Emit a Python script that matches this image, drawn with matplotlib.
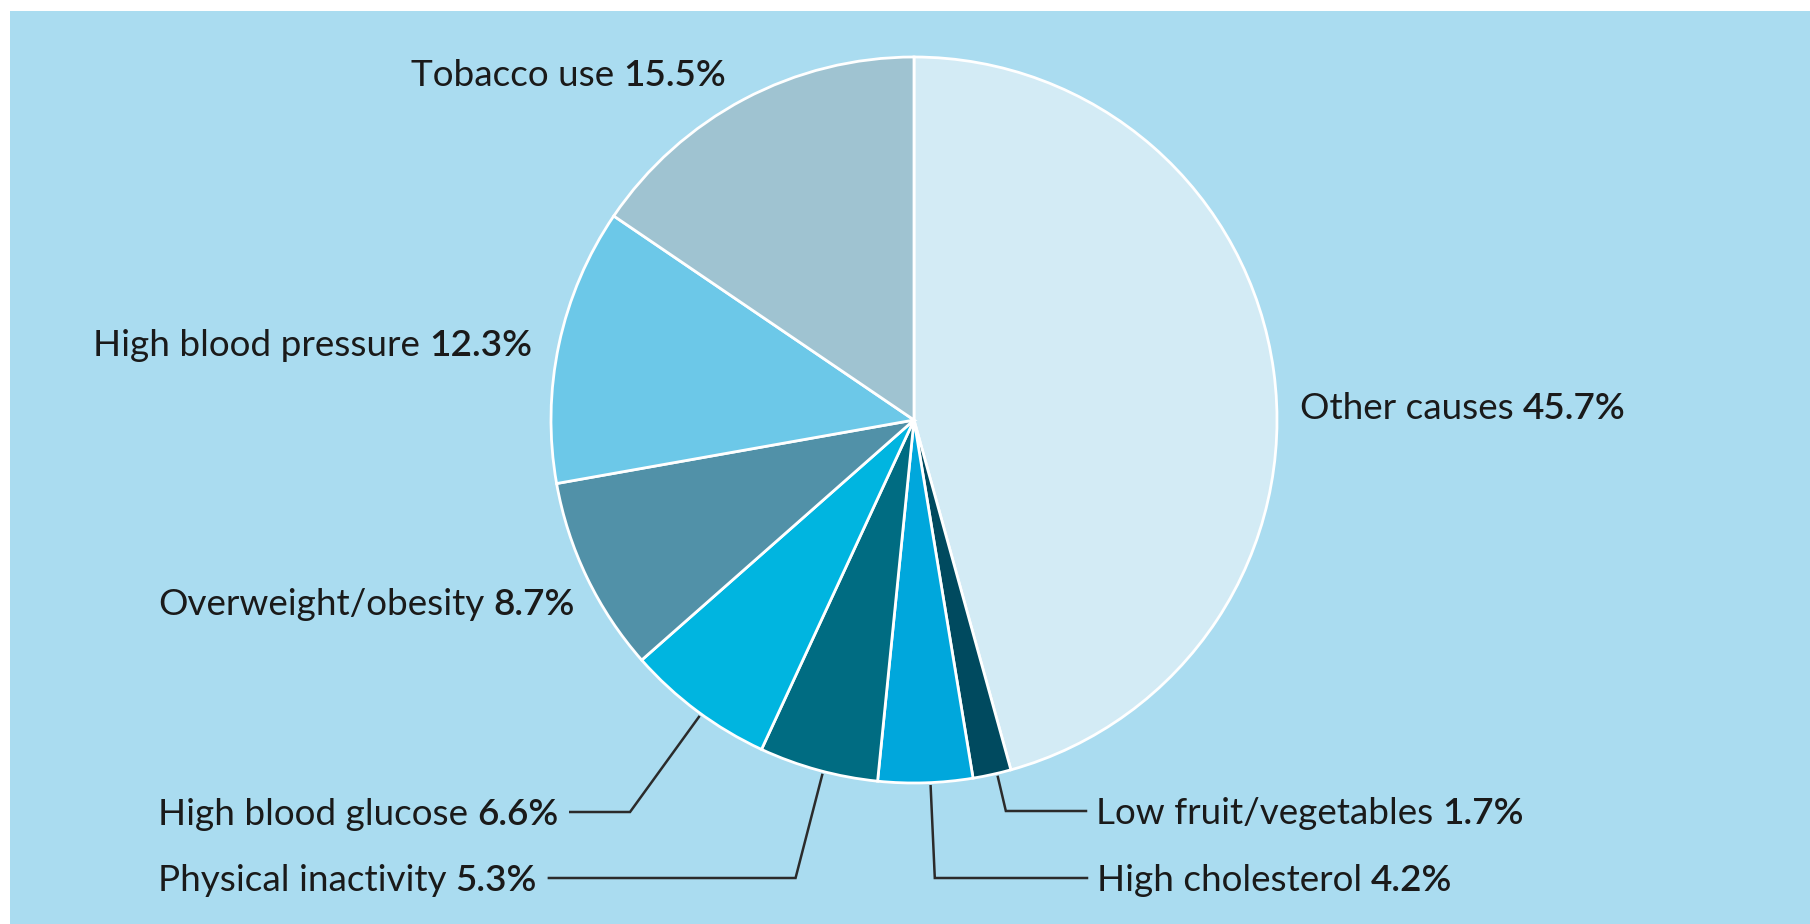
import numpy as np
import matplotlib.pyplot as plt
from matplotlib.patches import Rectangle

causes = ['Other causes', 'Low fruit/vegetables', 'High cholesterol',
          'Physical inactivity', 'High blood glucose', 'Overweight/obesity',
          'High blood pressure', 'Tobacco use']
shares = [45.7, 1.7, 4.2, 5.3, 6.6, 8.7, 12.3, 15.5]
colors = ['#d3ebf5', '#004a5f', '#00a7dc', '#006c82',
          '#00b5e0', '#5191a8', '#6cc8e8', '#9fc3d1']

# label anchor (x px, cap-centre y px from top, alignment)
label_pos = {
    'Other causes': (1300, 406, 'left'),
    'Low fruit/vegetables': (1096, 811, 'left'),
    'High cholesterol': (1097, 878, 'left'),
    'Physical inactivity': (158, 878, 'left'),
    'High blood glucose': (158, 812, 'left'),
    'Overweight/obesity': (158, 602, 'left'),
    'High blood pressure': (532, 343, 'right'),
    'Tobacco use': (726, 73, 'right'),
}
with_leader = ['Low fruit/vegetables', 'High cholesterol',
               'Physical inactivity', 'High blood glucose']

plt.rcParams['font.family'] = ['Lato', 'DejaVu Sans']
FS = 26.6
TXT = '#1a1a1a'
CAP = 13  # half cap height in px

W, H = 1810, 924
fig = plt.figure(figsize=(W / 100, H / 100), dpi=100, facecolor='white')
ax = fig.add_axes([0, 0, 1, 1])

cx, cy, R = 914, H - 420, 363
wedges, _ = ax.pie(shares, colors=colors, startangle=90, counterclock=False,
                   radius=R, center=(cx, cy),
                   wedgeprops=dict(edgecolor='white', linewidth=2))
ax.set_xlim(0, W)
ax.set_ylim(0, H)
ax.set_aspect('equal')
ax.axis('off')
ax.add_patch(Rectangle((10, 0), W - 10, H - 11, facecolor='#aadcf0',
                       edgecolor='none', zorder=-5))

renderer = fig.canvas.get_renderer()
gap = 9


def put_label(x, ytop, name, value, ha):
    y = H - ytop - CAP
    if ha == 'left':
        t1 = ax.text(x, y, name, fontsize=FS, color=TXT, ha='left', va='baseline')
        b1 = t1.get_window_extent(renderer)
        t2 = ax.text(b1.x1 + gap, y, value, fontsize=FS, color=TXT,
                     fontweight='semibold', ha='left', va='baseline')
        b2 = t2.get_window_extent(renderer)
        return b1.x0, b2.x1
    t2 = ax.text(x, y, value, fontsize=FS, color=TXT, fontweight='semibold',
                 ha='right', va='baseline')
    b2 = t2.get_window_extent(renderer)
    t1 = ax.text(b2.x0 - gap, y, name, fontsize=FS, color=TXT,
                 ha='right', va='baseline')
    b1 = t1.get_window_extent(renderer)
    return b1.x0, b2.x1


for name, share, w in zip(causes, shares, wedges):
    x, ytop, ha = label_pos[name]
    x0, x1 = put_label(x, ytop, name, f'{share}%', ha)
    if name in with_leader:
        th = np.deg2rad((w.theta1 + w.theta2) / 2 + 0.8)
        sx, sy = cx + 1.01 * R * np.cos(th), cy + 1.01 * R * np.sin(th)
        ly = H - ytop
        t = (ly - cy) / np.sin(th)
        kx = cx + t * np.cos(th)
        ex = x1 + 12 if kx > x1 else x0 - 10
        ax.plot([sx, kx, ex], [sy, ly, ly], color='#2b2b2b', lw=1.8,
                solid_joinstyle='miter')

plt.savefig('out.png', dpi=100, facecolor='white')
